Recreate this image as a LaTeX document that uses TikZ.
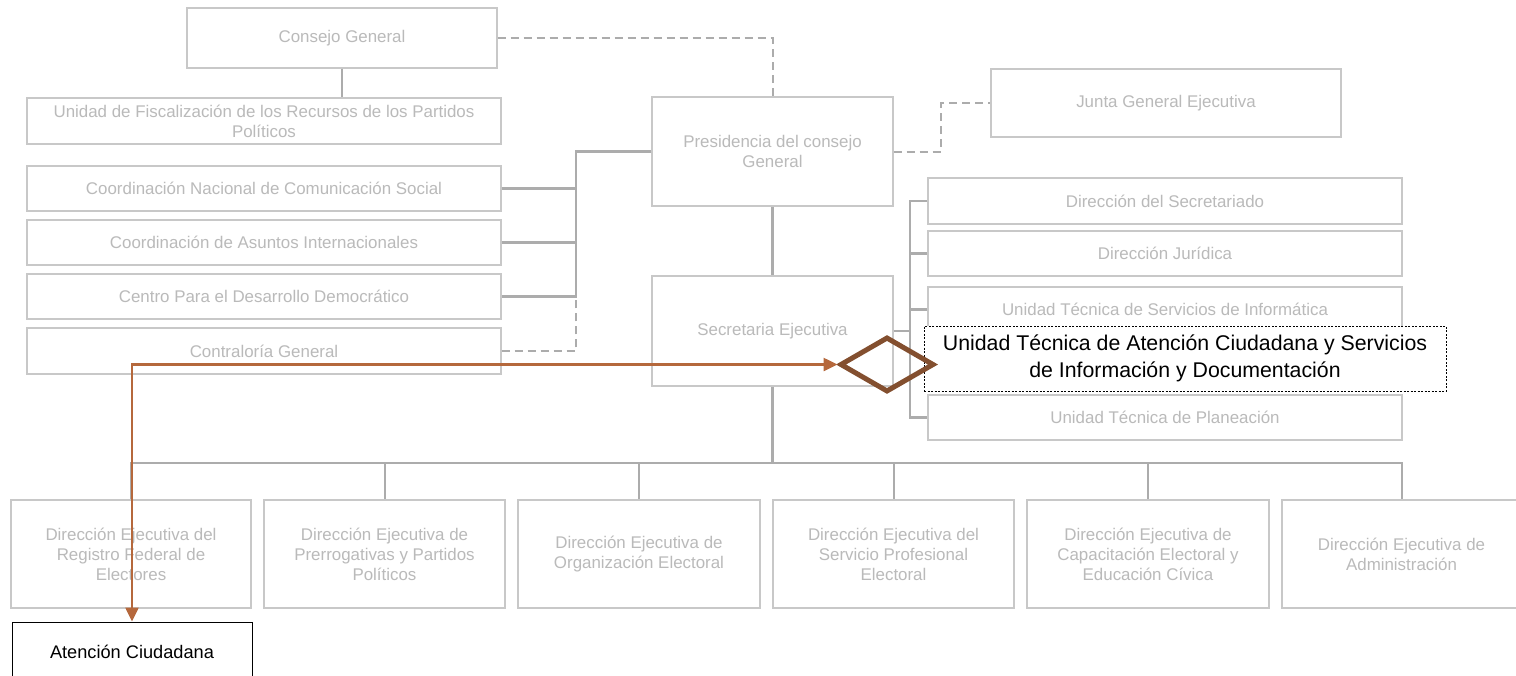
\documentclass[tikz,border=0pt]{standalone}
\usepackage{fontspec}
\setmainfont{Liberation Sans}
\usetikzlibrary{arrows.meta,shapes.geometric}
\definecolor{boxline}{RGB}{200,200,200}
\definecolor{boxtext}{RGB}{186,186,186}
\definecolor{linkgray}{RGB}{172,172,172}
\definecolor{diamcol}{RGB}{131,79,47}
\definecolor{arrcol}{RGB}{181,104,60}
\begin{document}
\begin{tikzpicture}[x=1pt,y=-1pt,
  gbox/.style={draw=boxline, line width=1.3pt, fill=white, inner sep=0pt,
    align=center, text=boxtext, font=\fontsize{16.9}{20}\selectfont},
  hibox/.style={draw=black, line width=0.7pt, dash pattern=on 2pt off 1.5pt,
    fill=white, inner sep=0pt, align=center, font=\fontsize{21.3}{27}\selectfont},
  plainbox/.style={draw=black, line width=1pt, fill=white, inner sep=0pt,
    align=center, font=\fontsize{18.2}{20}\selectfont},
  link/.style={draw=linkgray, line width=2.2pt},
  dashlink/.style={draw=linkgray, line width=2pt, dash pattern=on 8pt off 5pt},
  marker/.style={draw=diamcol, line width=5pt, shape=diamond, inner sep=0pt},
  pointer/.style={draw=arrcol, line width=2.5pt,
    {Triangle[length=14pt,width=13pt]}-{Triangle[length=14pt,width=13pt]}}
]
\useasboundingbox (0,0) rectangle (1516,675);

% top level
\node[gbox, minimum width=310pt, minimum height=60pt] (cons) at (342,38) {Consejo General};
\node[gbox, minimum width=241pt, minimum height=109pt] (pres) at (772.5,151.5) {Presidencia del consejo\\General};
\node[gbox, minimum width=350pt, minimum height=68pt] (junta) at (1166,103) {Junta General Ejecutiva};
\node[gbox, minimum width=241pt, minimum height=110pt] (sec) at (772.5,331) {Secretaria Ejecutiva};

% left column
\node[gbox, minimum width=474pt, minimum height=46pt] (ufis) at (264,121) {Unidad de Fiscalización de los Recursos de los Partidos\\Políticos};
\node[gbox, minimum width=474pt, minimum height=45pt] (cncs) at (264,188.5) {Coordinación Nacional de Comunicación Social};
\node[gbox, minimum width=474pt, minimum height=45pt] (cai) at (264,242.5) {Coordinación de Asuntos Internacionales};
\node[gbox, minimum width=474pt, minimum height=45pt] (cdd) at (264,296.5) {Centro Para el Desarrollo Democrático};
\node[gbox, minimum width=474pt, minimum height=46pt] (cg) at (264,351) {Contraloría General};

% right column
\node[gbox, minimum width=474pt, minimum height=46pt] (dsec) at (1165,201) {Dirección del Secretariado};
\node[gbox, minimum width=474pt, minimum height=45pt] (djur) at (1165,253.5) {Dirección Jurídica};
\node[gbox, minimum width=474pt, minimum height=45pt] (utsi) at (1165,309.5) {Unidad Técnica de Servicios de Informática};
\node[gbox, minimum width=474pt, minimum height=45pt] (utp) at (1165,417.5) {Unidad Técnica de Planeación};

% executive directorates
\node[gbox, minimum width=240pt, minimum height=108pt] (b1) at (131,554) {Dirección Ejecutiva del\\Registro Federal de\\Electores};
\node[gbox, minimum width=241pt, minimum height=108pt] (b2) at (384.5,554) {Dirección Ejecutiva de\\Prerrogativas y Partidos\\Políticos};
\node[gbox, minimum width=242pt, minimum height=108pt] (b3) at (639,554) {Dirección Ejecutiva de\\Organización Electoral};
\node[gbox, minimum width=241pt, minimum height=108pt] (b4) at (893.5,554) {Dirección Ejecutiva del\\Servicio Profesional\\Electoral};
\node[gbox, minimum width=242pt, minimum height=108pt] (b5) at (1148,554) {Dirección Ejecutiva de\\Capacitación Electoral y\\Educación Cívica};
\node[gbox, minimum width=239pt, minimum height=108pt] (b6) at (1401.5,554) {Dirección Ejecutiva de\\Administración};

% connectors
\coordinate (lbus) at (576,151.5);
\coordinate (rbus) at (910,331);
\coordinate (jbend) at (941,103);
\coordinate (bbus) at (772.5,463);

\draw[link] (cons.south) -- (cons.south |- ufis.north);
\draw[dashlink] (cons.east) -| (pres.north);
\draw[dashlink] (pres.east) -| (jbend) -- (junta.west);
\draw[link] (pres.west) -- (lbus) |- (cdd.east);
\draw[link] (cncs.east) -- (cncs.east -| lbus);
\draw[link] (cai.east) -- (cai.east -| lbus);
\draw[dashlink] (cg.east) -| (lbus |- cdd.east);
\draw[link] (pres.south) -- (sec.north);
\draw[link] (sec.east) -- (rbus);
\draw[link] (dsec.west) -| (rbus) |- (utp.west);
\draw[link] (djur.west) -- (djur.west -| rbus);
\draw[link] (utsi.west) -- (utsi.west -| rbus);
\draw[link] (sec.south) -- (bbus);
\foreach \b in {b1,b2,b3,b4,b5,b6}
  \draw[link, line width=2pt] (bbus) -| (\b.north);

% highlighted unit
\node[hibox, minimum width=522pt, minimum height=65pt] (utac) at (1185,358.5) {Unidad Técnica de Atención Ciudadana y Servicios\\de Información y Documentación};
\node[marker, minimum width=94pt, minimum height=55pt] (mark) at (887,364.5) {};
\node[plainbox, minimum width=240pt, minimum height=60pt] (aten) at (132,652) {Atención Ciudadana};
\draw[pointer] (mark.west) -| (aten.north);
\end{tikzpicture}
\end{document}
